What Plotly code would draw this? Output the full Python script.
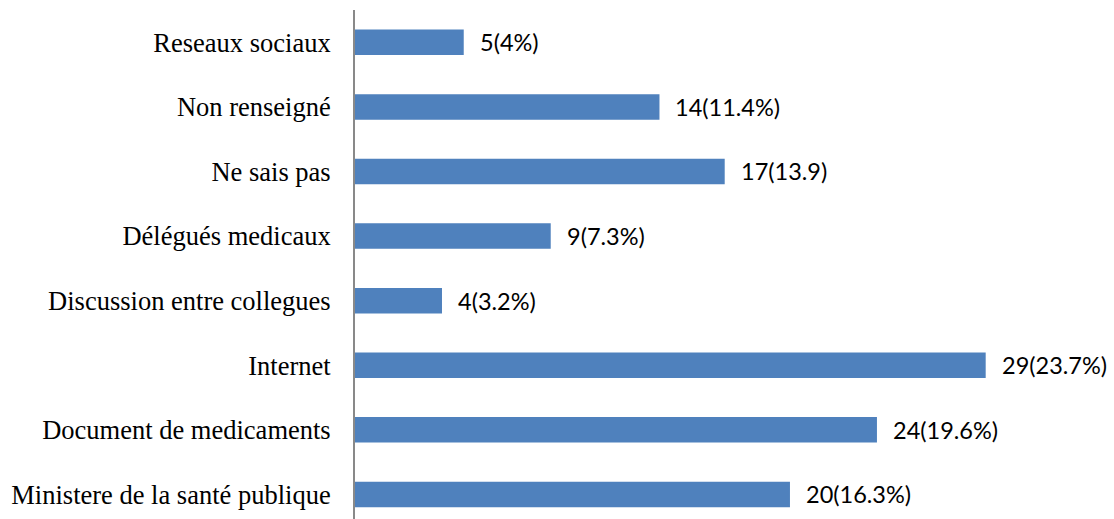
import plotly.graph_objects as go

# Sources of information, listed top to bottom
categories = [
    "Reseaux sociaux",
    "Non renseigné",
    "Ne sais pas",
    "Délégués medicaux",
    "Discussion entre collegues",
    "Internet",
    "Document de medicaments",
    "Ministere de la santé publique",
]
counts = [5, 14, 17, 9, 4, 29, 24, 20]
value_labels = [
    "5(4%)",
    "14(11.4%)",
    "17(13.9)",
    "9(7.3%)",
    "4(3.2%)",
    "29(23.7%)",
    "24(19.6%)",
    "20(16.3%)",
]

fig = go.Figure(
    go.Bar(
        x=counts,
        y=categories,
        orientation="h",
        marker=dict(color="#4F81BD", line=dict(width=0)),
        hoverinfo="skip",
    )
)

# Value labels placed just past the end of each bar
for cat, val, lab in zip(categories, counts, value_labels):
    fig.add_annotation(
        x=val, y=cat, text=lab, showarrow=False,
        xanchor="left", xshift=14, yshift=0,
        font=dict(family="Lato, Carlito, Open Sans, sans-serif", size=23.5, color="#000000"),
    )

fig.update_layout(
    width=1114,
    height=519,
    margin=dict(l=355, r=0, t=10, b=0),
    paper_bgcolor="white",
    plot_bgcolor="white",
    bargap=0.605,
    showlegend=False,
    xaxis=dict(
        range=[0, 34.9],
        visible=False,
        showgrid=False,
        zeroline=False,
    ),
    yaxis=dict(
        type="category",
        range=[7.38, -0.5],
        showline=True,
        linecolor="#898989",
        linewidth=2,
        showgrid=False,
        zeroline=False,
        ticks="",
        ticklabelstandoff=17,
        tickfont=dict(family="Liberation Serif, Times New Roman, serif", size=26.5, color="#000000"),
    ),
)

fig.write_html("out.html")
